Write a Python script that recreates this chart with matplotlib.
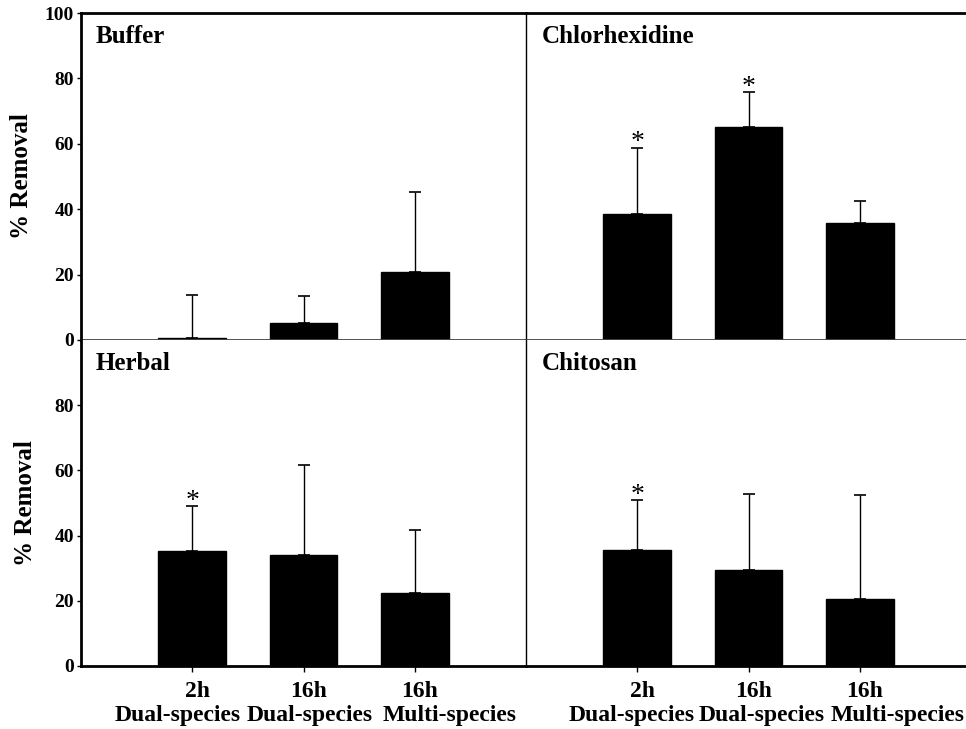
import matplotlib
matplotlib.use("Agg")
import matplotlib.pyplot as plt
from matplotlib.transforms import blended_transform_factory, ScaledTranslation

plt.rcParams['font.family'] = ['Liberation Serif', 'DejaVu Serif']
plt.rcParams['font.weight'] = 'bold'

time_labels = ["2h", "16h", "16h"]
culture_labels = ["Dual-species", "Dual-species", "Multi-species"]
panels = ["Buffer", "Chlorhexidine", "Herbal", "Chitosan"]
means = {
    "Buffer": [0.5, 5.1, 20.9],
    "Chlorhexidine": [38.4, 65.0, 35.8],
    "Herbal": [35.2, 34.1, 22.4],
    "Chitosan": [35.7, 29.4, 20.4],
}
errs_upper = {
    "Buffer": [13.7, 13.5, 45.3],
    "Chlorhexidine": [58.8, 75.8, 42.4],
    "Herbal": [49.1, 61.8, 41.6],
    "Chitosan": [50.8, 52.8, 52.5],
}
significant = {
    "Buffer": [False, False, False],
    "Chlorhexidine": [True, True, False],
    "Herbal": [True, False, False],
    "Chitosan": [True, False, False],
}
yticks_top = [0, 20, 40, 60, 80, 100]
yticks_bottom = [0, 20, 40, 60, 80]

W, H = 966, 729
fig = plt.figure(figsize=(W / 100, H / 100), dpi=100)

x_left, x_mid, x_right = 81, 526, 966
y_top, y_mid, y_bot = 13, 340, 666

def fx(p):
    return p / W

def fy(p):
    return 1 - p / H

boxes = {
    "Buffer": (x_left, y_top, x_mid, y_mid),
    "Chlorhexidine": (x_mid, y_top, x_right, y_mid),
    "Herbal": (x_left, y_mid, x_mid, y_bot),
    "Chitosan": (x_mid, y_mid, x_right, y_bot),
}

spacing_px = (x_mid - x_left) / 4.0
xpos = [1, 2, 3]
second_line_shift = {True: [-0.13, 0.055, 0.31], False: [-0.05, 0.12, 0.34]}

for name in panels:
    l, t, r, b = boxes[name]
    ax = fig.add_axes([fx(l), fy(b), fx(r) - fx(l), fy(t) - fy(b)])
    ax.set_xlim(0, (r - l) / spacing_px)
    ax.set_ylim(0, 100)
    m = means[name]
    up = [e - v for e, v in zip(errs_upper[name], m)]
    ax.bar(xpos, m, width=0.61, color='black', edgecolor='black', zorder=2)
    ax.errorbar(xpos, m, yerr=[[0] * 3, up], fmt='none', ecolor='black',
                elinewidth=1.0, capsize=4.5, capthick=1.2, zorder=3)
    for xi, e, s in zip(xpos, errs_upper[name], significant[name]):
        if s:
            ax.annotate('*', (xi, e), xytext=(0, -5.5), textcoords='offset points',
                        ha='center', va='bottom', fontsize=20, fontweight='normal')
    is_left = (l == x_left)
    is_top = (t == y_top)
    ax.text(0.032 if is_left else 0.035, 0.928, name,
            transform=ax.transAxes, fontsize=18, fontweight='bold',
            ha='left', va='center')
    for sp in ax.spines.values():
        sp.set_color('black')
    ax.spines['right'].set_visible(False)
    ax.spines['left'].set_linewidth(2.0 if is_left else 1.0)
    if is_top:
        ax.spines['top'].set_linewidth(2.0)
        ax.spines['bottom'].set_linewidth(1.3)
        ax.spines['bottom'].set_color('#444444')
    else:
        ax.spines['top'].set_visible(False)
        ax.spines['bottom'].set_linewidth(2.0)
    if is_left:
        ax.set_yticks(yticks_top if is_top else yticks_bottom)
        ax.tick_params(axis='y', direction='out', length=3, width=1, labelsize=14, pad=2)
        for lab in ax.get_yticklabels():
            lab.set_fontweight('bold')
        ax.set_ylabel('% Removal', fontsize=18, fontweight='bold')
        ax.yaxis.set_label_coords(-0.108 if is_top else -0.099, 0.5)
    else:
        ax.set_yticks([])
    if is_top:
        ax.set_xticks([])
    else:
        ax.set_xticks(xpos)
        ax.set_xticklabels(time_labels, fontsize=17, fontweight='bold')
        ax.tick_params(axis='x', direction='out', length=4, width=1, pad=7)
        shift = ScaledTranslation(5 / 100, 0, fig.dpi_scale_trans)
        for lab in ax.get_xticklabels():
            lab.set_transform(lab.get_transform() + shift)
        trans = blended_transform_factory(ax.transData, ax.transAxes)
        yline = -(715 - y_bot) / (y_bot - y_mid)
        for xi, lab, sh in zip(xpos, culture_labels, second_line_shift[is_left]):
            ax.text(xi + sh, yline, lab, transform=trans, fontsize=17,
                    fontweight='bold', ha='center', va='center')

fig.savefig('out.png', dpi=100)
